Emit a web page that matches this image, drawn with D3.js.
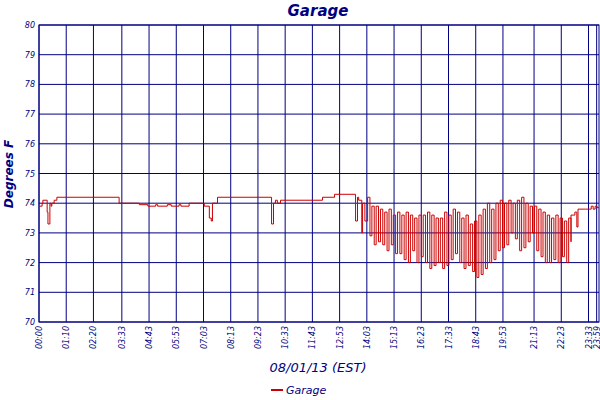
<!DOCTYPE html>
<html>
<head>
<meta charset="UTF-8">
<script src="https://d3js.org/d3.v7.min.js"></script>
<style>
  body { margin: 0; background: #fff; }
  text { font-family: "DejaVu Sans", sans-serif; fill: #000080; font-style: italic; }
</style>
</head>
<body>
<svg width="600" height="400"></svg>
<script>
// minutes since midnight, and readings
const flatTimes = [0, 8, 10, 18, 21, 23, 26, 28, 31, 33, 39, 46, 206, 258, 280, 300, 305, 330, 340, 360, 365, 386, 425, 438, 443, 446, 459, 598, 603, 608, 613, 621, 729, 760, 814, 819, 822, 830, 832, 838];
const flatTemps = [73.9, 74.0, 74.1, 74.1, 73.7, 73.3, 73.3, 74.0, 73.9, 74.0, 74.1, 74.2, 74.0, 73.95, 73.9, 73.95, 73.9, 73.95, 73.9, 73.95, 73.9, 74.0, 73.9, 73.5, 73.4, 74.0, 74.2, 73.3, 74.0, 74.1, 74.0, 74.1, 74.2, 74.3, 73.4, 74.2, 74.1, 73.0, 74.0, 73.4];
// heating/cooling cycles: start minute, peak, trough
const cycleTimes = [845, 856, 867, 878, 889, 900, 911, 922, 933, 944, 955, 966, 977, 988, 999, 1010, 1021, 1032, 1043, 1054, 1065, 1076, 1087, 1098, 1109, 1120, 1131, 1142, 1153, 1164, 1175, 1186, 1197, 1208, 1219, 1230, 1241, 1252, 1263, 1274, 1285, 1296, 1307, 1318, 1329, 1340, 1351, 1362];
const cycleHighs = [74.2, 73.9, 73.9, 73.8, 73.7, 73.8, 73.6, 73.7, 73.6, 73.7, 73.6, 73.5, 73.6, 73.6, 73.7, 73.6, 73.5, 73.5, 73.7, 73.6, 73.8, 73.7, 73.5, 73.6, 73.3, 73.4, 73.6, 73.8, 74.0, 73.8, 74.0, 74.1, 74.0, 74.1, 74.0, 74.1, 74.2, 74.0, 73.9, 73.9, 73.8, 73.7, 73.6, 73.5, 73.6, 73.5, 73.4, 73.5];
const cycleLows = [72.9, 72.6, 72.7, 72.6, 72.4, 72.6, 72.3, 72.3, 72.1, 72.0, 72.4, 72.0, 72.2, 72.0, 71.8, 71.9, 72.0, 71.8, 71.9, 72.1, 72.3, 72.0, 71.8, 71.9, 71.7, 71.5, 71.6, 71.8, 72.0, 72.1, 72.4, 72.5, 72.6, 73.0, 72.8, 72.4, 72.5, 72.7, 73.0, 72.4, 72.2, 72.0, 72.0, 72.1, 72.0, 72.2, 72.0, 72.7];
const tailTimes = [1368, 1378, 1383, 1386, 1405, 1420, 1425, 1430, 1435, 1440];
const tailTemps = [73.6, 73.7, 73.2, 73.8, 73.8, 73.9, 73.8, 73.9, 73.85, 73.85];

const yTicks = [70, 71, 72, 73, 74, 75, 76, 77, 78, 79, 80];
const xTicks = [0, 70, 140, 213, 283, 353, 423, 493, 563, 633, 703, 773, 843, 913, 983, 1053, 1123, 1193, 1273, 1343, 1413, 1434];
const xLabels = ["00:00", "01:10", "02:20", "03:33", "04:43", "05:53", "07:03", "08:13", "09:23", "10:33", "11:43", "12:53", "14:03", "15:13", "16:23", "17:33", "18:43", "19:53", "21:13", "22:23", "23:33", "23:59"];

const data = [];
flatTimes.forEach((t, i) => data.push([t, flatTemps[i]]));
cycleTimes.forEach((t, i) => { data.push([t, cycleHighs[i]]); data.push([t + 6, cycleLows[i]]); });
tailTimes.forEach((t, i) => data.push([t, tailTemps[i]]));

const svg = d3.select("svg");
const L = 39, R = 599, T = 25, B = 322;
const x = d3.scaleLinear().domain([0, 1440]).range([L, R]);
const y = d3.scaleLinear().domain([70, 80]).range([B, T]);
const navy = "#000080";

svg.append("g").selectAll("line").data(yTicks).join("line")
  .attr("x1", L).attr("x2", R).attr("y1", d => y(d)).attr("y2", d => y(d))
  .attr("stroke", navy).attr("stroke-width", 1);
svg.append("g").selectAll("line").data(xTicks).join("line")
  .attr("x1", d => x(d)).attr("x2", d => x(d)).attr("y1", T).attr("y2", B)
  .attr("stroke", navy).attr("stroke-width", 1);
svg.append("rect").attr("x", L).attr("y", T).attr("width", R - L).attr("height", B - T)
  .attr("fill", "none").attr("stroke", navy);

svg.append("path").datum(data)
  .attr("d", d3.line().x(d => x(d[0])).y(d => y(d[1])).curve(d3.curveStepAfter))
  .attr("fill", "none").attr("stroke", "#cc0000").attr("stroke-width", 1);

svg.append("g").selectAll("text").data(yTicks).join("text")
  .attr("x", L - 4).attr("y", d => y(d) + 3).attr("text-anchor", "end")
  .attr("font-size", 8).text(d => d);
svg.append("g").selectAll("text").data(xTicks).join("text")
  .attr("transform", d => `translate(${x(d) + 3},${B + 4}) rotate(-90)`)
  .attr("text-anchor", "end").attr("font-size", 8).text((d, i) => xLabels[i]);

svg.append("text").attr("x", 318).attr("y", 16).attr("text-anchor", "middle")
  .attr("font-size", 15).attr("font-weight", "bold").text("Garage");
svg.append("text").attr("transform", "translate(13,174) rotate(-90)").attr("text-anchor", "middle")
  .attr("font-size", 12).attr("font-weight", "bold").text("Degrees F");
svg.append("text").attr("x", 318).attr("y", 372).attr("text-anchor", "middle")
  .attr("font-size", 13).text("08/01/13 (EST)");
svg.append("line").attr("x1", 271).attr("x2", 283).attr("y1", 390).attr("y2", 390)
  .attr("stroke", "#cc0000").attr("stroke-width", 2);
svg.append("text").attr("x", 286).attr("y", 394).attr("font-size", 11).text("Garage");
</script>
</body>
</html>
